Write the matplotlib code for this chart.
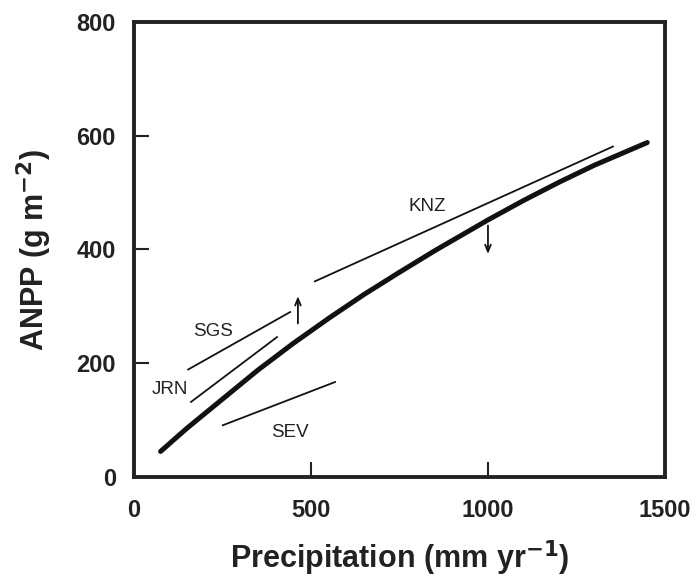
import matplotlib
matplotlib.use("Agg")
import matplotlib.pyplot as plt

plt.rcParams['font.family'] = ['Liberation Sans', 'DejaVu Sans']

# Overall ANPP-precipitation curve
curve_x = [75, 150, 250, 350, 450, 550, 650, 750, 850, 1000, 1100, 1200, 1300, 1450]
curve_y = [45, 86, 137, 188, 235, 279, 321, 360, 398, 452, 486, 518, 548, 588]

# Site-level relationships (start/end)
sites = ["SGS", "JRN", "SEV", "KNZ"]
site_x = [[153, 441], [161, 404], [251, 568], [511, 1353]]
site_y = [[189, 290], [132, 246], [91, 167], [344, 581]]
label_x = [223, 102, 441, 828]
label_y = [256, 153, 79, 475]

# Arrows (x, y_start, y_end)
arrow_x = [463, 1000]
arrow_y0 = [270, 442]
arrow_y1 = [318, 392]

xticks = [0, 500, 1000, 1500]
yticks = [0, 200, 400, 600, 800]

fig = plt.figure(figsize=(6.97, 5.77), dpi=100)
ax = fig.add_axes([0.1923, 0.1733, 0.7617, 0.7886])

ax.plot(curve_x, curve_y, color='#111111', lw=3.6, solid_capstyle='round',
        solid_joinstyle='round')
for sx, sy in zip(site_x, site_y):
    ax.plot(sx, sy, color='#111111', lw=1.3)
for name, lx, ly in zip(sites, label_x, label_y):
    ax.text(lx, ly, name, ha='center', va='center', fontsize=13.5, color='#222222')
for axx, a0, a1 in zip(arrow_x, arrow_y0, arrow_y1):
    ax.annotate('', xy=(axx, a1), xytext=(axx, a0),
                arrowprops=dict(arrowstyle='->,head_length=0.5,head_width=0.2',
                                color='#111111', lw=1.3, shrinkA=0, shrinkB=0))

ax.set_xlim(0, 1500)
ax.set_ylim(0, 800)
ax.set_xticks(xticks)
ax.set_yticks(yticks)
ax.tick_params(direction='in', length=11, width=1.5, colors='#222222',
               labelsize=17)
ax.tick_params(axis='x', pad=16)
ax.tick_params(axis='y', pad=13)
for lab in ax.get_xticklabels() + ax.get_yticklabels():
    lab.set_fontweight('bold')
for sp in ax.spines.values():
    sp.set_linewidth(2.8)
    sp.set_color('#222222')

ax.set_xlabel('Precipitation (mm yr$^{\\mathbf{-1}}$)', fontsize=22, fontweight='bold',
              labelpad=12, color='#222222')
ax.set_ylabel('ANPP (g m$^{\\mathbf{-2}}$)', fontsize=22, fontweight='bold',
              labelpad=16, color='#222222')

fig.savefig('out.png', dpi=100)
